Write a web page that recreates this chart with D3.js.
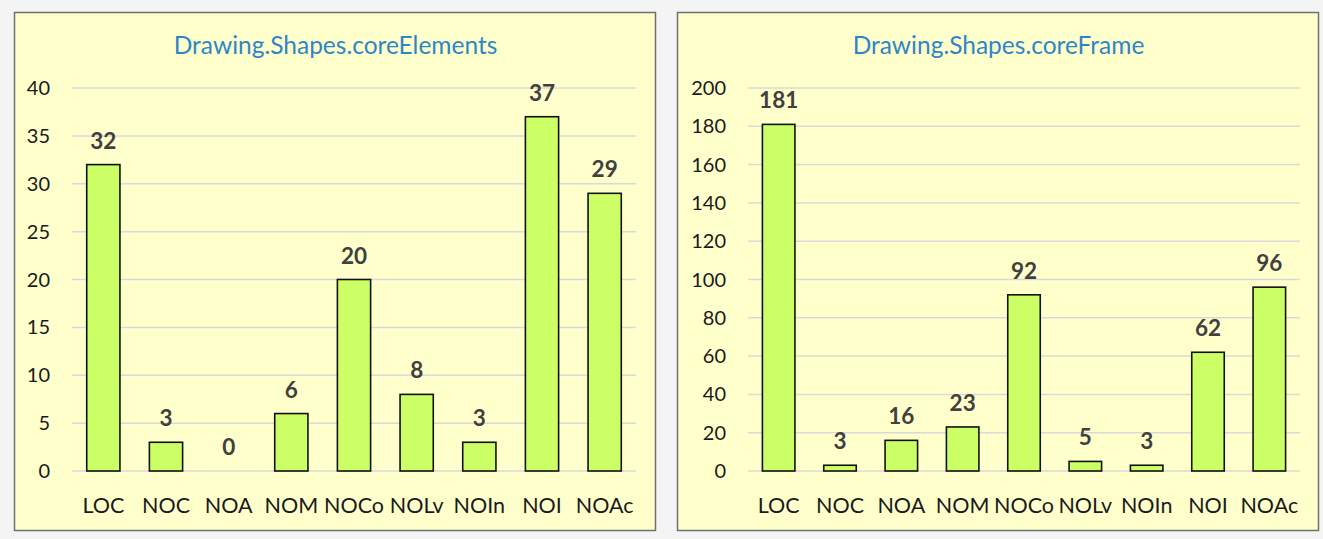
<!DOCTYPE html>
<html>
<head>
<title>Drawing.Shapes</title>
<script src="https://d3js.org/d3.v7.min.js"></script>
<style>
	body {margin:0; background:#f4f4f4;}
	svg {display:block;}
</style>
</head>
<body>
<div id="mydiv"></div>
<script>
var categories = ["LOC","NOC","NOA","NOM","NOCo","NOLv","NOIn","NOI","NOAc"];
var elementsValues = [32,3,0,6,20,8,3,37,29];
var frameValues = [181,3,16,23,92,5,3,62,96];
var elementsTicks = [0,5,10,15,20,25,30,35,40];
var frameTicks = [0,20,40,60,80,100,120,140,160,180,200];

var svg = d3.select("#mydiv").append("svg")
	.attr("width",1323)
	.attr("height",539);

function drawChart(px, title, values, ticks, plotLeft, plotWidth)
	{
	var g = svg.append("g").attr("transform","translate("+px+",12)");
	var w = 641, h = 518;

	g.append("rect")
		.attr("x",0.5).attr("y",0.5)
		.attr("width",w).attr("height",h)
		.attr("fill","#ffffcc")
		.attr("stroke","#6f6f6f")
		.attr("stroke-width",1.5);

	g.append("text")
		.attr("x",w/2+1).attr("y",42)
		.attr("text-anchor","middle")
		.attr("font-family","Lato, sans-serif")
		.attr("font-size","24.5")
		.attr("fill","#2e86c8")
		.text(title);

	var x = d3.scaleBand().domain(categories)
		.range([plotLeft, plotLeft + plotWidth])
		.paddingInner(0.47).paddingOuter(0.235);

	var y = d3.scaleLinear().domain([0, ticks[ticks.length-1]]).range([459, 76]);

	// gridlines
	g.selectAll("line.grid").data(ticks).enter()
		.append("line")
		.attr("class","grid")
		.attr("x1",plotLeft).attr("x2",plotLeft+plotWidth)
		.attr("y1",function(d){return y(d);})
		.attr("y2",function(d){return y(d);})
		.attr("stroke","#d9d9d9")
		.attr("stroke-width",1.5);

	// y tick labels
	g.selectAll("text.tick").data(ticks).enter()
		.append("text")
		.attr("class","tick")
		.attr("x",plotLeft-22)
		.attr("y",function(d){return y(d)+7;})
		.attr("text-anchor","end")
		.attr("font-family","Lato, sans-serif")
		.attr("font-size","20")
		.attr("fill","#1a1a1a")
		.text(function(d){return d;});

	// bars
	g.selectAll("rect.bar").data(values).enter()
		.append("rect")
		.attr("class","bar")
		.attr("x",function(d,i){return x(categories[i]);})
		.attr("y",function(d){return y(d);})
		.attr("width",x.bandwidth())
		.attr("height",function(d){return y(0)-y(d);})
		.attr("fill","#ccff66")
		.attr("stroke",function(d){return d > 0 ? "#111" : "none";})
		.attr("stroke-width",1.6);

	// value labels
	g.selectAll("text.val").data(values).enter()
		.append("text")
		.attr("class","val")
		.attr("x",function(d,i){return x(categories[i])+x.bandwidth()/2;})
		.attr("y",function(d){return y(d)-16;})
		.attr("text-anchor","middle")
		.attr("font-family","Lato, sans-serif")
		.attr("font-weight","bold")
		.attr("font-size","22.5")
		.attr("fill","#404040")
		.text(function(d){return d;});

	// category labels
	g.selectAll("text.cat").data(categories).enter()
		.append("text")
		.attr("class","cat")
		.attr("x",function(d){return x(d)+x.bandwidth()/2;})
		.attr("y",501)
		.attr("text-anchor","middle")
		.attr("font-family","Lato, sans-serif")
		.attr("font-size","21.5")
		.attr("fill","#1a1a1a")
		.text(function(d){return d;});
	}

drawChart(14, "Drawing.Shapes.coreElements", elementsValues, elementsTicks, 58, 564);
drawChart(677, "Drawing.Shapes.coreFrame", frameValues, frameTicks, 71, 552);
</script>
</body>
</html>
